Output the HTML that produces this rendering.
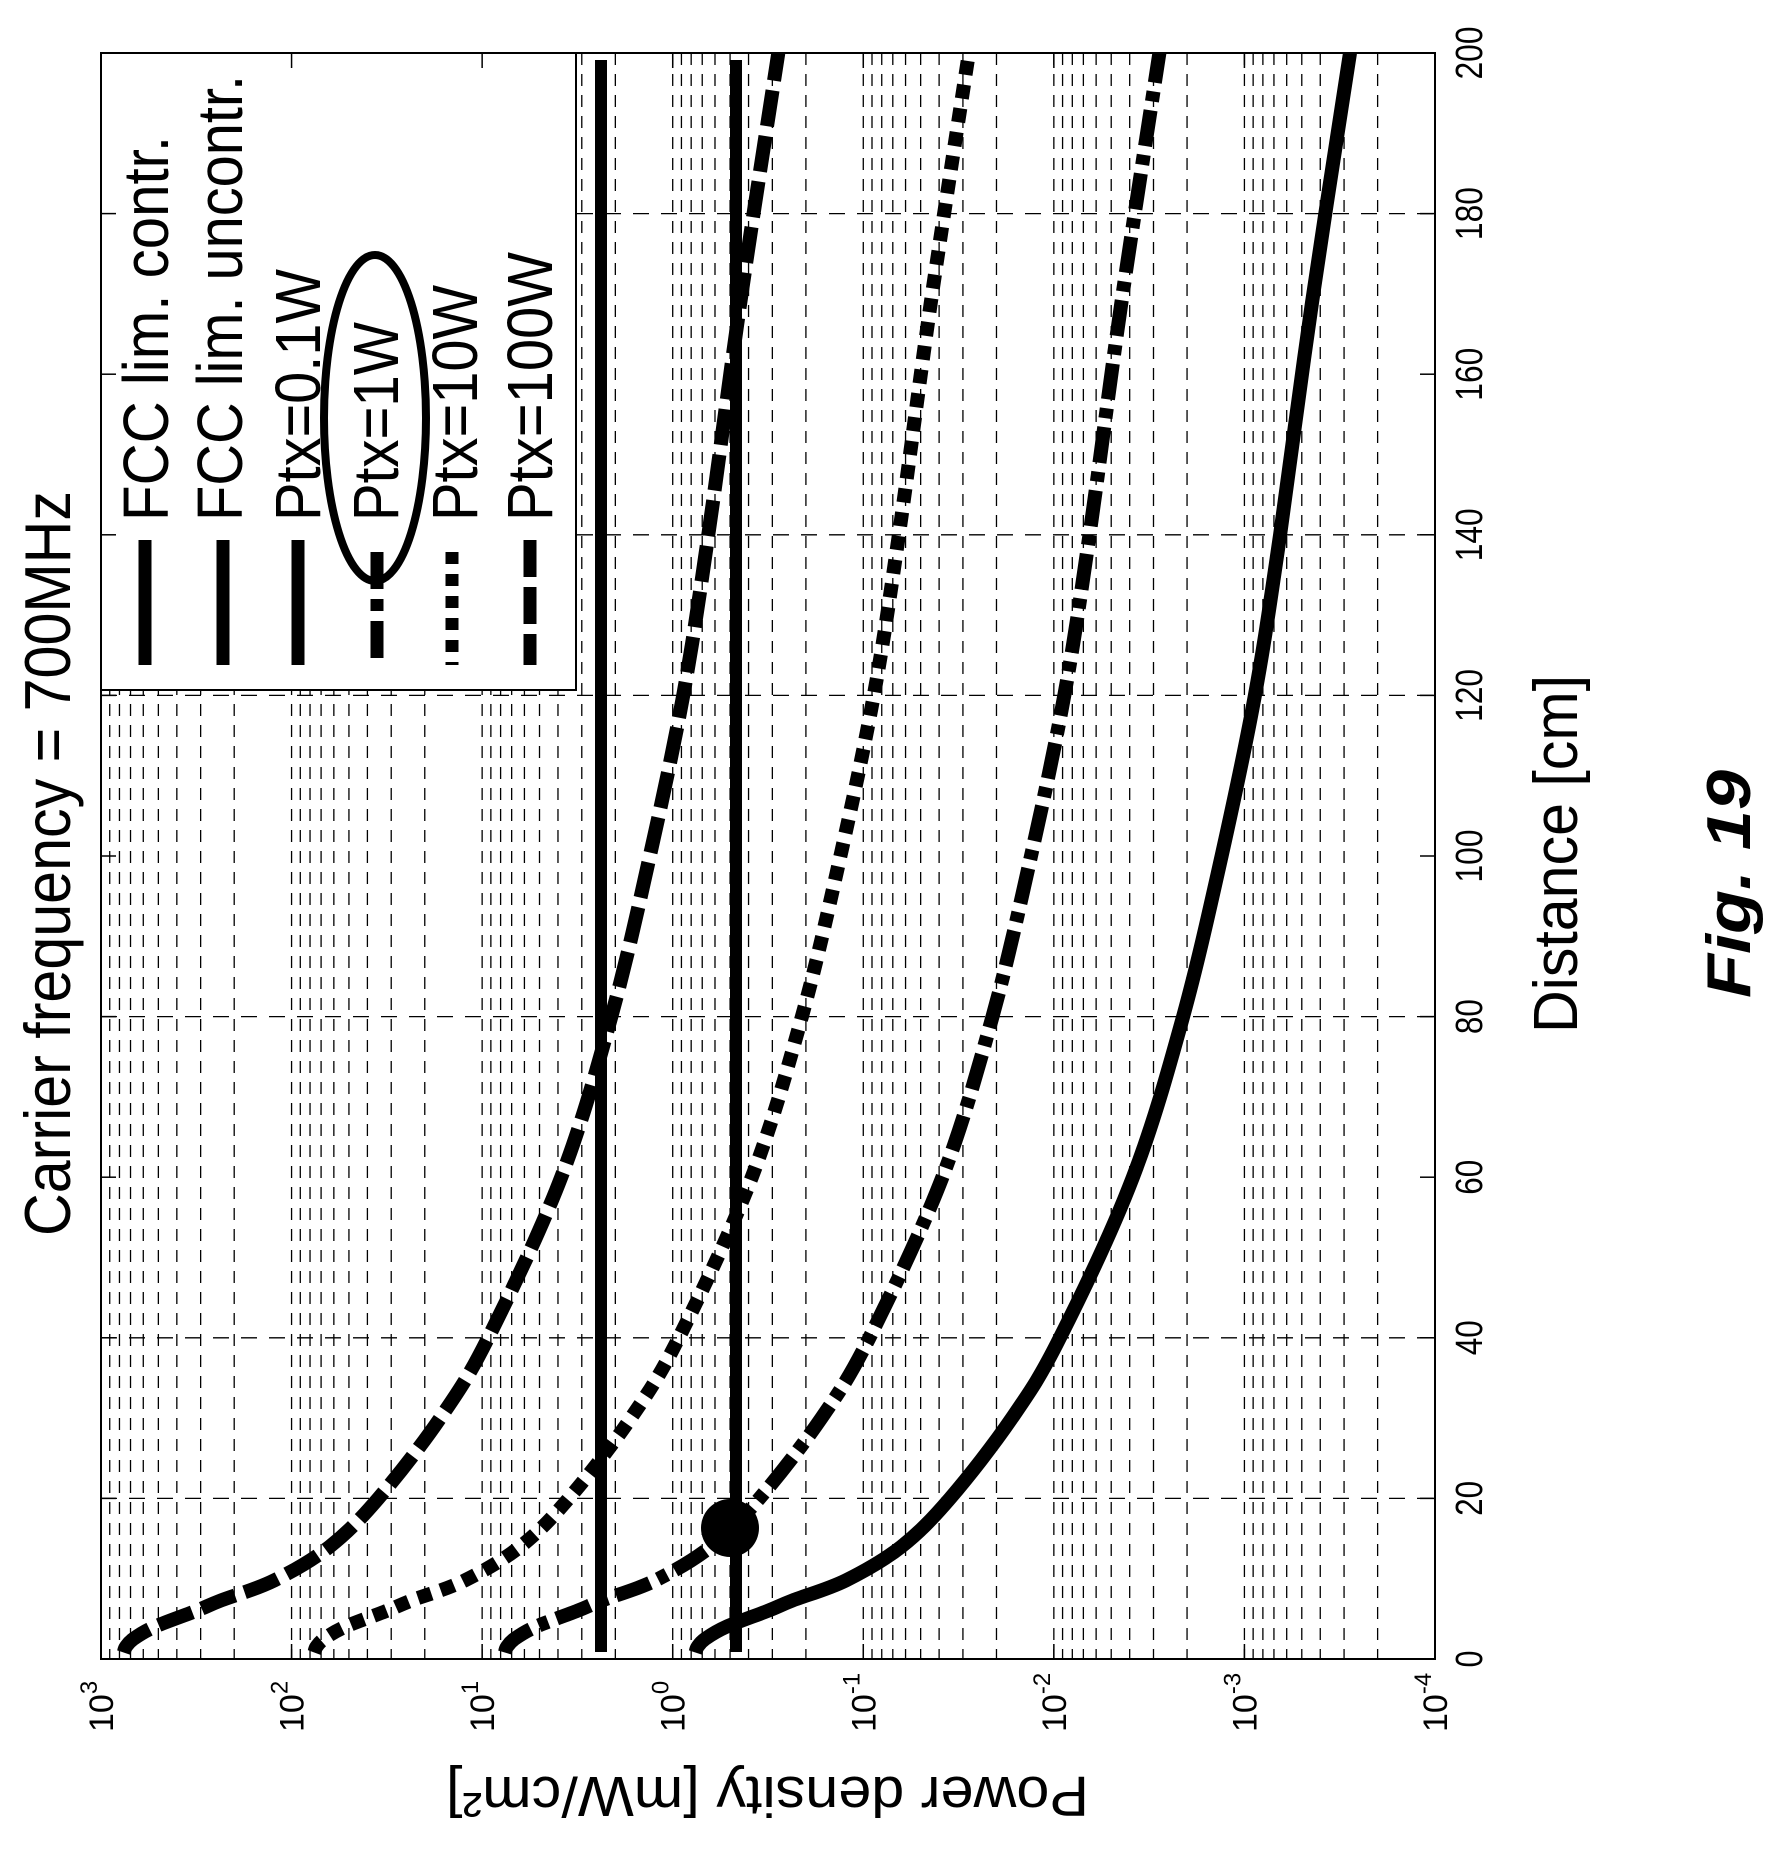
<!DOCTYPE html>
<html><head><meta charset="utf-8">
<style>
html,body{margin:0;padding:0;background:#fff;}
svg{display:block;}
text{font-family:"Liberation Sans",sans-serif;fill:#000;}
</style></head>
<body>
<svg id="s" xmlns="http://www.w3.org/2000/svg" width="1779" height="1856" viewBox="0 0 1779 1856">
<defs><clipPath id="cp"><rect x="101" y="53" width="1334" height="1606"/></clipPath></defs>
<g id="grid"></g>
<rect x="101" y="53" width="475" height="637" fill="#fff" stroke="#000" stroke-width="2"/>
<g id="ticks"></g>
<line x1="601" y1="60" x2="601" y2="1652" stroke="#000" stroke-width="12"/>
<line x1="736" y1="60" x2="736" y2="1652" stroke="#000" stroke-width="12"/>
<g id="curves" clip-path="url(#cp)"></g>
<circle cx="730" cy="1528" r="29" fill="#000"/>
<rect x="101" y="53" width="1334" height="1606" fill="none" stroke="#000" stroke-width="2"/>

<!-- legend -->
<line x1="145" y1="540" x2="145" y2="665" stroke="#000" stroke-width="13"/>
<line x1="223" y1="540" x2="223" y2="665" stroke="#000" stroke-width="13"/>
<line x1="298" y1="540" x2="298" y2="665" stroke="#000" stroke-width="13"/>
<line x1="377" y1="552" x2="377" y2="665" stroke="#000" stroke-width="13" stroke-dasharray="37 10 12 10"/>
<line x1="452" y1="552" x2="452" y2="665" stroke="#000" stroke-width="13" stroke-dasharray="12 10"/>
<line x1="530" y1="540" x2="530" y2="665" stroke="#000" stroke-width="13" stroke-dasharray="37 10"/>
<g font-size="64">
<text transform="translate(168,521) rotate(-90)" textLength="385" lengthAdjust="spacingAndGlyphs">FCC lim. contr.</text>
<text transform="translate(242,521) rotate(-90)" textLength="446" lengthAdjust="spacingAndGlyphs">FCC lim. uncontr.</text>
<text transform="translate(320,521) rotate(-90)" textLength="252" lengthAdjust="spacingAndGlyphs">Ptx=0.1W</text>
<text transform="translate(398,521) rotate(-90)" textLength="199" lengthAdjust="spacingAndGlyphs">Ptx=1W</text>
<text transform="translate(477,521) rotate(-90)" textLength="236" lengthAdjust="spacingAndGlyphs">Ptx=10W</text>
<text transform="translate(552,521) rotate(-90)" textLength="269" lengthAdjust="spacingAndGlyphs">Ptx=100W</text>
</g>
<ellipse cx="375" cy="418" rx="51" ry="163" fill="none" stroke="#000" stroke-width="8"/>

<!-- titles -->
<text transform="translate(70,1236) rotate(-90)" font-size="65" textLength="745" lengthAdjust="spacingAndGlyphs">Carrier frequency = 700MHz</text>
<text transform="translate(1089,1777) rotate(180)" font-size="57" textLength="643" lengthAdjust="spacingAndGlyphs">Power density [mW/cm²]</text>
<text transform="translate(1577,1033) rotate(-90)" font-size="62" textLength="358" lengthAdjust="spacingAndGlyphs">Distance [cm]</text>
<text transform="translate(1750,998) rotate(-90)" font-size="62" font-weight="bold" font-style="italic" textLength="228" lengthAdjust="spacingAndGlyphs">Fig. 19</text>
<g id="labels"></g>
</svg>
<script>
(function(){
var NS="http://www.w3.org/2000/svg";
function el(p,n,a,t){var e=document.createElementNS(NS,n);for(var k in a)e.setAttribute(k,a[k]);if(t!=null)e.textContent=t;document.getElementById(p).appendChild(e);return e;}
var X0=101,DEC=190.57,Y0=1659,PCM=8.03;
function xs(lg){return X0+(3-lg)*DEC;}
function ys(d){return Y0-d*PCM;}
for(var m=-4;m<=2;m++)for(var k=1;k<=9;k++){var lg=m+Math.log10(k);var x=xs(lg);if(x<=102||x>=1434)continue;
el("grid","line",{x1:x,y1:53,x2:x,y2:1659,stroke:"#000","stroke-width":1.3,"stroke-dasharray":"12 9"});}
[20,40,80,120,140,180].forEach(function(d){var y=ys(d);el("grid","line",{x1:101,y1:y,x2:1435,y2:y,stroke:"#000","stroke-width":1.3,"stroke-dasharray":"16 12"});});
for(var d=0;d<=200;d+=20){var y=ys(d);el("ticks","line",{x1:1420,y1:y,x2:1435,y2:y,stroke:"#000","stroke-width":1.5});el("ticks","line",{x1:101,y1:y,x2:116,y2:y,stroke:"#000","stroke-width":1.5});
var s=String(d);el("labels","text",{transform:"translate(1482,"+y+") rotate(-90)","font-size":38,"text-anchor":"middle",textLength:(s.length*18-1),lengthAdjust:"spacingAndGlyphs"},s);}
for(var i=0;i<=7;i++){var x=X0+i*DEC;el("ticks","line",{x1:x,y1:53,x2:x,y2:68,stroke:"#000","stroke-width":1.5});el("ticks","line",{x1:x,y1:1644,x2:x,y2:1659,stroke:"#000","stroke-width":1.5});
var t=el("labels","text",{transform:"translate("+(x+12)+",1732) rotate(-90)","font-size":34});
var a=document.createElementNS(NS,"tspan");a.textContent="10";t.appendChild(a);
var b=document.createElementNS(NS,"tspan");b.setAttribute("font-size","24");b.setAttribute("dy","-16");b.textContent=String(3-i);t.appendChild(b);}
var pts=[[0.8,-0.12],[1.5,-0.13],[2.5,-0.17],[4,-0.28],[6,-0.5],[7.3,-0.63],[9.8,-0.91],[14,-1.2],[20,-1.455],[30,-1.78],[40,-2.032],[60,-2.415],[80,-2.678],[100,-2.88],[120,-3.055],[140,-3.187],[169,-3.355],[200,-3.554]];
function path(off){var P=pts.map(function(p){return [xs(p[1]+off),ys(p[0])];});
var s="M"+P[0][0]+","+P[0][1];
for(var i=0;i<P.length-1;i++){var p0=P[Math.max(0,i-1)],p1=P[i],p2=P[i+1],p3=P[Math.min(P.length-1,i+2)];
var c1=[p1[0]+(p2[0]-p0[0])/6,p1[1]+(p2[1]-p0[1])/6],c2=[p2[0]-(p3[0]-p1[0])/6,p2[1]-(p3[1]-p1[1])/6];
s+=" C"+c1[0].toFixed(1)+","+c1[1].toFixed(1)+" "+c2[0].toFixed(1)+","+c2[1].toFixed(1)+" "+p2[0].toFixed(1)+","+p2[1].toFixed(1);}
return s;}
var st=[[0,null],[1,"36 9 10 9"],[2,"14 10"],[3,"36 10"]];
st.forEach(function(q){var a={d:path(q[0]),fill:"none",stroke:"#000","stroke-width":14,"stroke-linejoin":"round"};if(q[1])a["stroke-dasharray"]=q[1];el("curves","path",a);});
})();
</script>
</body></html>
